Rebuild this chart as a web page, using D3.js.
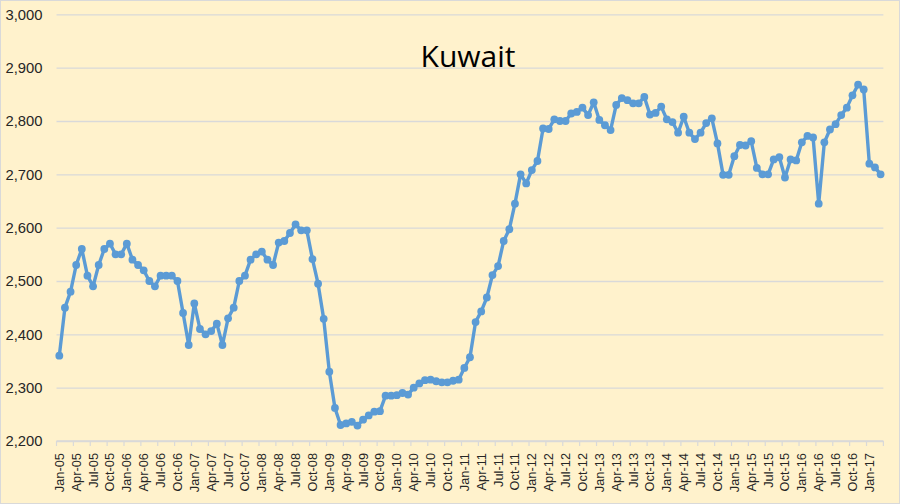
<!DOCTYPE html>
<html>
<head>
<meta charset="utf-8">
<script src="https://cdn.jsdelivr.net/npm/d3@7"></script>
<style>
  html, body { margin: 0; padding: 0; background: #fff; }
  svg { display: block; }
</style>
</head>
<body>
<svg id="chart" width="900" height="504"></svg>
<script>
// ---- Data ----
const chartTitle = "Kuwait";
const monthNames = ["Jan","Feb","Mar","Apr","May","Jun","Jul","Aug","Sep","Oct","Nov","Dec"];
const years = ["05","06","07","08","09","10","11","12","13","14","15","16","17"];
const categories = [];
years.forEach(y => monthNames.forEach(m => categories.push(m + "-" + y)));
categories.length = 147; // Jan-05 .. Mar-17

const values2005 = [2360, 2450, 2480, 2530, 2560, 2510, 2490, 2530, 2560, 2570, 2550, 2550];
const values2006 = [2570, 2540, 2530, 2520, 2500, 2490, 2510, 2510, 2510, 2500, 2440, 2380];
const values2007 = [2458, 2410, 2400, 2406, 2420, 2380, 2430, 2450, 2500, 2510, 2540, 2550];
const values2008 = [2555, 2540, 2530, 2572, 2575, 2590, 2606, 2595, 2595, 2541, 2495, 2429];
const values2009 = [2330, 2262, 2230, 2233, 2236, 2229, 2240, 2248, 2255, 2256, 2285, 2285];
const values2010 = [2286, 2290, 2287, 2300, 2308, 2314, 2315, 2312, 2310, 2310, 2313, 2315];
const values2011 = [2337, 2357, 2423, 2443, 2469, 2511, 2528, 2575, 2597, 2645, 2700, 2683];
const values2012 = [2708, 2725, 2786, 2785, 2803, 2800, 2800, 2814, 2817, 2825, 2811, 2835];
const values2013 = [2802, 2792, 2783, 2830, 2843, 2839, 2833, 2833, 2845, 2812, 2815, 2827];
const values2014 = [2803, 2798, 2778, 2808, 2778, 2766, 2778, 2796, 2805, 2758, 2699, 2699];
const values2015 = [2734, 2755, 2754, 2762, 2712, 2700, 2700, 2728, 2732, 2694, 2728, 2726];
const values2016 = [2760, 2772, 2769, 2645, 2760, 2784, 2794, 2811, 2825, 2848, 2868, 2859];
const values2017 = [2720, 2713, 2700];
const values = [].concat(values2005, values2006, values2007, values2008, values2009,
  values2010, values2011, values2012, values2013, values2014, values2015, values2016, values2017);

const yTicks = [2200, 2300, 2400, 2500, 2600, 2700, 2800, 2900, 3000];
const xTickLabels = categories.filter((c, i) => i % 3 === 0);

const data = categories.map((c, i) => ({ cat: c, value: values[i] }));

// ---- Drawing ----
const W = 900, H = 504;
const svg = d3.select("#chart");
const plot = { left: 56.5, right: 883.4, top: 14.3, bottom: 441 };

svg.append("rect").attr("x", 0.5).attr("y", 0.5).attr("width", W - 1).attr("height", H - 1)
  .attr("fill", "#FFF2CC").attr("stroke", "#D9D9D9");

const x = d3.scaleBand().domain(categories).range([plot.left, plot.right]).paddingInner(0).paddingOuter(0);
const y = d3.scaleLinear().domain([2200, 3000]).range([plot.bottom, plot.top]);
const cx = d => x(d) + x.bandwidth() / 2;

// gridlines + y labels
const yAxis = d3.axisLeft(y).tickValues(yTicks).tickSize(-(plot.right - plot.left))
  .tickPadding(14).tickFormat(d3.format(","));
const gy = svg.append("g").attr("transform", `translate(${plot.left},0)`).call(yAxis);
gy.select(".domain").remove();
gy.selectAll(".tick line").attr("stroke", "#D9D9D9").attr("stroke-width", 1.3);
gy.selectAll(".tick text").attr("fill", "#262626")
  .style("font-family", "'Liberation Sans', Arial, sans-serif").style("font-size", "14.8px");

// x axis line
svg.append("line").attr("x1", plot.left).attr("x2", plot.right)
  .attr("y1", plot.bottom).attr("y2", plot.bottom).attr("stroke", "#D9D9D9").attr("stroke-width", 1.3);

// x tick marks at category boundaries every 3 months
const tickPos = categories.filter((c, i) => i % 3 === 0).map(c => x(c)).concat([plot.right]);
svg.append("g").selectAll("line").data(tickPos).join("line")
  .attr("x1", d => d).attr("x2", d => d)
  .attr("y1", plot.bottom).attr("y2", plot.bottom + 5)
  .attr("stroke", "#D9D9D9").attr("stroke-width", 1.2);

// x labels
const xAxis = d3.axisBottom(x).tickValues(xTickLabels).tickSize(0).tickPadding(0);
const gx = svg.append("g").attr("transform", `translate(0,${plot.bottom})`).call(xAxis);
gx.select(".domain").remove();
gx.selectAll(".tick text")
  .attr("fill", "#262626")
  .style("font-family", "'Liberation Sans', Arial, sans-serif").style("font-size", "12.8px")
  .attr("text-anchor", "end")
  .attr("dy", "0.35em")
  .attr("transform", "translate(0,12) rotate(-90)")
  .attr("x", 0).attr("y", 0);

// line
const line = d3.line().x(d => cx(d.cat)).y(d => y(d.value));
svg.append("path").datum(data).attr("d", line)
  .attr("fill", "none").attr("stroke", "#5B9BD5").attr("stroke-width", 3.4)
  .attr("stroke-linejoin", "round");

svg.append("g").selectAll("circle").data(data).join("circle")
  .attr("cx", d => cx(d.cat)).attr("cy", d => y(d.value)).attr("r", 3.9)
  .attr("fill", "#5B9BD5");

// title
svg.append("text").attr("x", 468).attr("y", 67).attr("text-anchor", "middle")
  .attr("fill", "#000")
  .style("font-family", "'Open Sans', 'Liberation Sans', sans-serif").style("font-size", "30px")
  .text(chartTitle);
</script>
</body>
</html>
